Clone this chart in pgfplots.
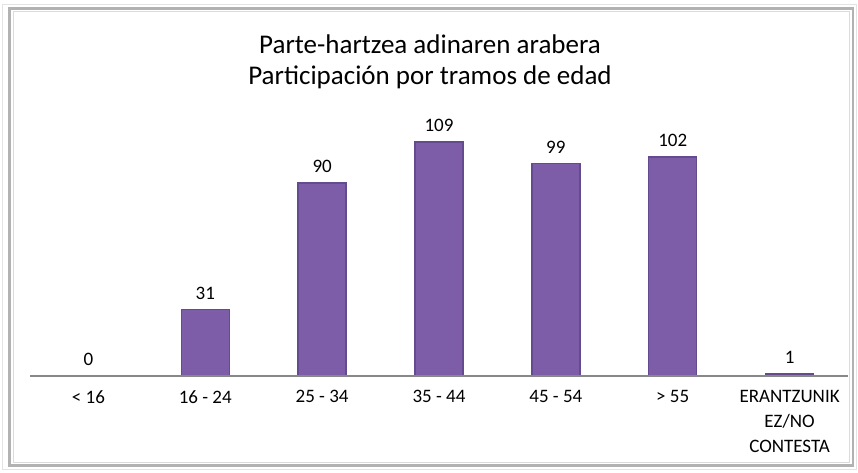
\documentclass[border=0pt]{standalone}
\usepackage{fontspec}
\setmainfont{Carlito}
\usepackage{pgfplots}
\pgfplotsset{compat=1.18}
\definecolor{barfill}{HTML}{7D5CA8}
\definecolor{baredge}{HTML}{644A8E}
\definecolor{axisgray}{HTML}{888888}

\begin{document}
\begin{tikzpicture}
\path[use as bounding box] (0,0) rectangle (858pt,472pt);
% chart frame
\draw[gray!22, line width=1.5pt] (2.5pt,467.5pt) rectangle (856.5pt,2.5pt);
\draw[gray!60, line width=2.5pt] (9.5pt,463.5pt) rectangle (853pt,6.5pt);
\draw[gray!28, line width=1pt] (13.5pt,460pt) rectangle (849.5pt,10pt);
% title
\node[anchor=base, font=\fontsize{27}{32}\selectfont] at (430pt,418pt) {Parte-hartzea adinaren arabera};
\node[anchor=base, font=\fontsize{27}{32}\selectfont] at (430pt,387pt) {Participación por tramos de edad};
\begin{axis}[
    at={(30pt,96pt)}, anchor=south west,
    scale only axis,
    width=818pt, height=257.6pt,
    xmin=-0.5, xmax=6.5, ymin=0, ymax=120,
    axis x line*=bottom,
    axis y line=none,
    axis on top,
    x axis line style={axisgray, line width=2pt, -},
    xtick=data,
    xticklabels={{< 16},{16 - 24},{25 - 34},{35 - 44},{45 - 54},{> 55},{ERANTZUNIK\\EZ/NO\\CONTESTA}},
    xticklabel style={align=center, font=\fontsize{19}{25}\selectfont, yshift=-11pt},
    major tick length=0pt,
    /pgf/number format/assume math mode=true,
    ybar, bar width=48pt,
    nodes near coords,
    every node near coord/.append style={font=\fontsize{19}{24}\selectfont, black, yshift=6pt},
    clip=false,
]
\addplot[draw=baredge, line width=1.5pt, fill=barfill]
  coordinates {(0,0) (1,31) (2,90) (3,109) (4,99) (5,102) (6,1)};
\end{axis}
\end{tikzpicture}
\end{document}
